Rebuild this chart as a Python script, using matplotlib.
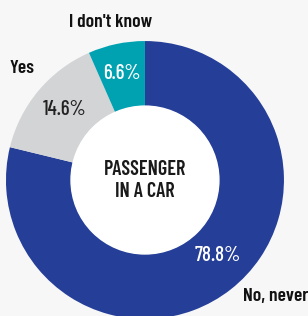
import matplotlib
matplotlib.use("Agg")
import matplotlib.pyplot as plt

categories = ["No, never", "Yes", "I don't know"]
values = [78.8, 14.6, 6.6]
pct_labels = ["78.8%", "14.6%", "6.6%"]
colors = ["#253f98", "#d3d4d6", "#00a1b1"]
pct_colors = ["white", "#222222", "white"]
center_text = "PASSENGER\nIN A CAR"

fam = ["Barlow Condensed", "DejaVu Sans"]

bg = "#f7f7f7"
fig = plt.figure(figsize=(3.08, 3.16), dpi=100, facecolor=bg)
ax = fig.add_axes([0, 0, 1, 1])
ax.set_facecolor(bg)

R = 1.0
wedges, _ = ax.pie(values, colors=colors, startangle=90, counterclock=False,
                   radius=R, wedgeprops=dict(width=0.47, linewidth=0))

ax.set_aspect("equal")
ax.set_xlim(-1.043, 1.173)
ax.set_ylim(-0.978, 1.295)
ax.axis("off")

# inner white disc
ax.add_patch(plt.Circle((0, 0), 0.532, color="white", zorder=3))

ax.text(0, 0, center_text, ha="center", va="center", fontsize=14.5,
        fontweight="semibold", family=fam, color="#1a1a1a", linespacing=1.2, zorder=4)

# percentage labels
pct_pos = [(0.525, -0.54), (-0.58, 0.51), (-0.165, 0.765)]
for (x, y), t, c in zip(pct_pos, pct_labels, pct_colors):
    ax.text(x, y, t, ha="center", va="center", fontsize=15, family=fam,
            fontweight="medium", color=c, zorder=4)

# category labels
cat_pos = [(0.94, -0.835), (-0.885, 0.805), (-0.25, 1.135)]
for (x, y), t in zip(cat_pos, categories):
    ax.text(x, y, t, ha="center", va="center", fontsize=14, fontweight="semibold",
            family=fam, color="#111111", zorder=4)

fig.savefig("out.png", dpi=100, facecolor=bg)
